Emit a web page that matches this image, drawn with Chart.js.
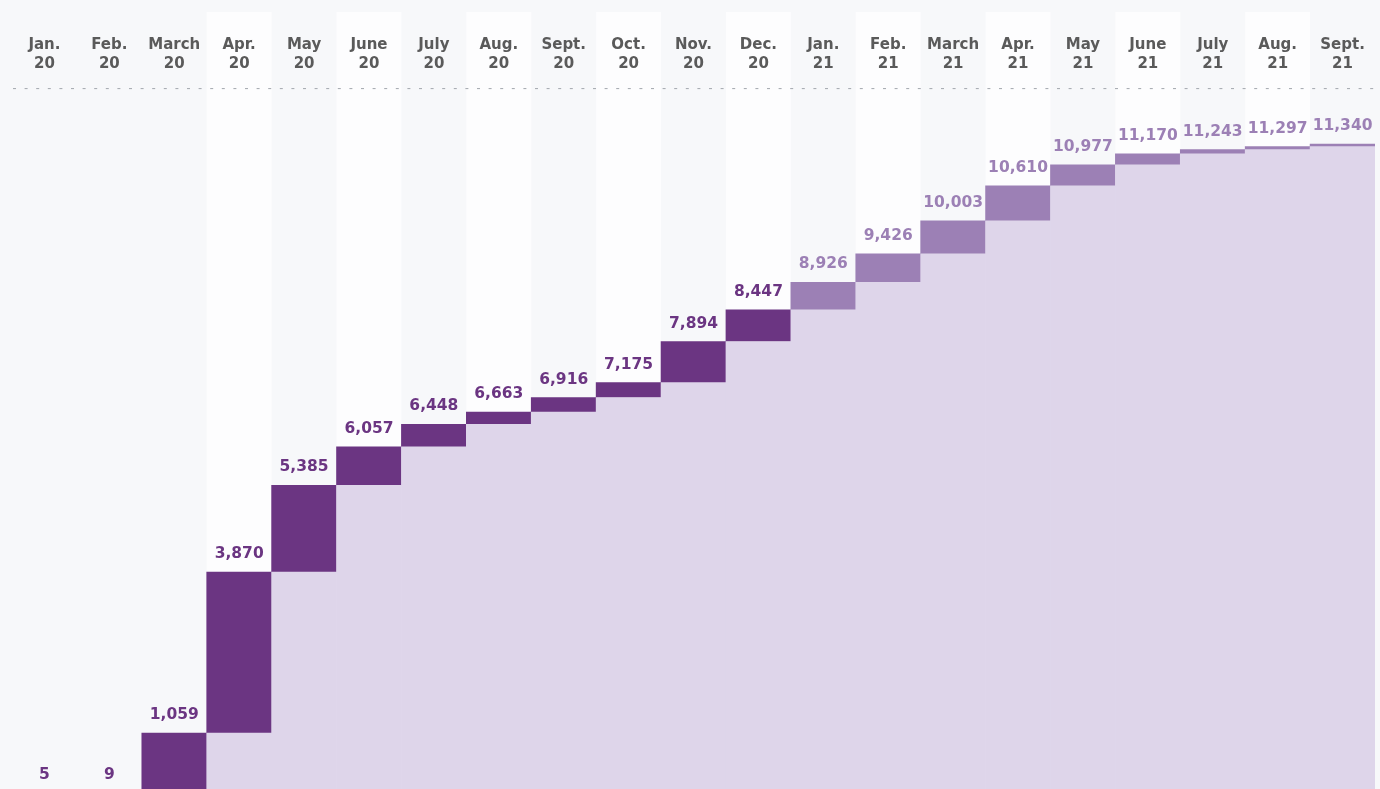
<!DOCTYPE html>
<html lang="en">
<head>
<meta charset="UTF-8">
<title>Cumulative total by month</title>
<script src="https://cdn.jsdelivr.net/npm/chart.js@4.4.6/dist/chart.umd.min.js"></script>
<style>
  html, body { margin: 0; padding: 0; background: #f7f8fa; }
  canvas { display: block; }
</style>
</head>
<body>
<canvas id="chart" width="1380" height="789"></canvas>
<script>
// Month / year tick labels and the running total at the end of each month
const months = ['Jan.', 'Feb.', 'March', 'Apr.', 'May', 'June', 'July', 'Aug.', 'Sept.', 'Oct.', 'Nov.', 'Dec.',
                'Jan.', 'Feb.', 'March', 'Apr.', 'May', 'June', 'July', 'Aug.', 'Sept.'];
const years  = ['20', '20', '20', '20', '20', '20', '20', '20', '20', '20', '20', '20',
                '21', '21', '21', '21', '21', '21', '21', '21', '21'];
const totals = [5, 9, 1059, 3870, 5385, 6057, 6448, 6663, 6916, 7175, 7894, 8447,
                8926, 9426, 10003, 10610, 10977, 11170, 11243, 11297, 11340];

const DARK = '#6b3582';
const LIGHT = '#9c80b5';
const FILL = '#ded5ea';
const FONT = '"DejaVu Sans", sans-serif';

// Each month is drawn as the step from the previous total up to its own total
const labels = months.map((m, i) => [m, years[i]]);
const base   = totals.map((_, i) => (i === 0 ? 0 : totals[i - 1]));
const step   = totals.map((t, i) => t - base[i]);
const colors = years.map(y => (y === '21' ? LIGHT : DARK));

// Alternating column shading behind the bars, dotted rule under the header
const columnShading = {
  id: 'columnShading',
  beforeDraw(chart) {
    const { ctx, scales: { x }, chartArea } = chart;
    const w = (chartArea.right - chartArea.left) / totals.length;
    ctx.save();
    ctx.fillStyle = '#f7f8fa';
    ctx.fillRect(0, 0, chart.width, chart.height);
    ctx.fillStyle = '#fdfdfe';
    totals.forEach((_, i) => {
      if (i >= 3 && i % 2 === 1) {
        const cx = x.getPixelForValue(i);
        ctx.fillRect(cx - w / 2, 12, w, chart.height - 12);
      }
    });
    ctx.strokeStyle = '#a2a6ad';
    ctx.lineWidth = 1;
    ctx.setLineDash([3, 8.6]);
    ctx.beginPath();
    ctx.moveTo(chartArea.left + 1, chartArea.top + 0.5);
    ctx.lineTo(chartArea.right, chartArea.top + 0.5);
    ctx.stroke();
    ctx.restore();
  },
};

// Total written above each step
const totalLabels = {
  id: 'totalLabels',
  afterDatasetsDraw(chart) {
    const { ctx, scales: { x, y } } = chart;
    ctx.save();
    ctx.font = `bold 15.5px ${FONT}`;
    ctx.textAlign = 'center';
    ctx.textBaseline = 'alphabetic';
    totals.forEach((t, i) => {
      ctx.fillStyle = colors[i];
      ctx.fillText(t.toLocaleString('en-US'), x.getPixelForValue(i), y.getPixelForValue(t) - 14);
    });
    ctx.restore();
  },
};

new Chart(document.getElementById('chart'), {
  type: 'bar',
  data: {
    labels,
    datasets: [
      {
        label: 'Previous total',
        data: base,
        backgroundColor: FILL,
        borderWidth: 0,
        barPercentage: 1,
        categoryPercentage: 1,
      },
      {
        label: 'Added this month',
        data: step,
        backgroundColor: colors,
        borderWidth: 0,
        barPercentage: 1,
        categoryPercentage: 1,
      },
    ],
  },
  options: {
    responsive: false,
    animation: false,
    layout: { padding: { left: 12, right: 5, top: 22, bottom: 0 } },
    plugins: {
      legend: { display: false },
      tooltip: { enabled: false },
    },
    scales: {
      x: {
        position: 'top',
        stacked: true,
        grid: { display: false, drawTicks: false, tickLength: 0 },
        border: { display: false },
        ticks: {
          padding: 14,
          color: '#5a5a5a',
          font: { family: FONT, size: 15, weight: 'bold', lineHeight: 1.27 },
          maxRotation: 0,
          autoSkip: false,
        },
      },
      y: {
        stacked: true,
        display: false,
        min: 82,
        max: 12318,
      },
    },
  },
  plugins: [columnShading, totalLabels],
});
</script>
</body>
</html>
